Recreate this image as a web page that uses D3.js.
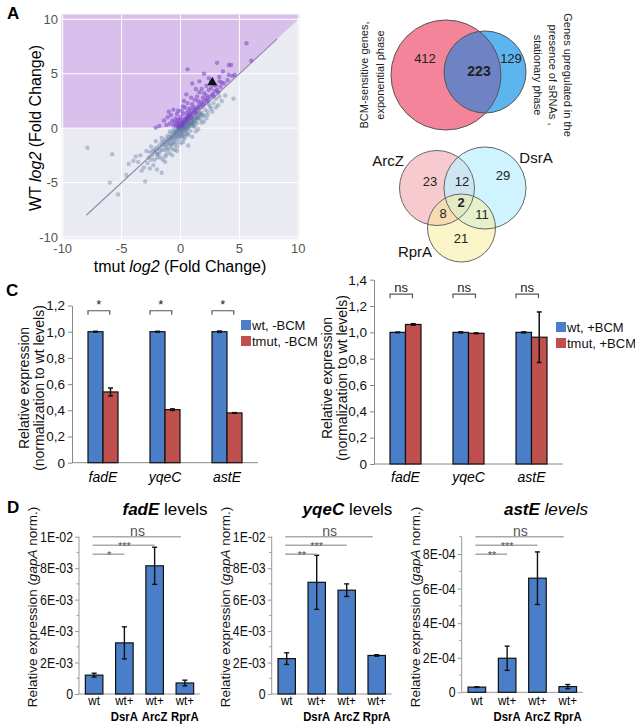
<!DOCTYPE html>
<html><head><meta charset="utf-8">
<script src="https://cdn.jsdelivr.net/npm/d3@7"></script>
<style>body{margin:0;background:#fff} svg{display:block;font-family:"Liberation Sans",Arial,Helvetica,sans-serif}</style>
</head><body><svg id="c" width="635" height="727"></svg>
<script>
// ---------------- DATA ----------------
const scatterTicks = [-10, -5, 0, 5, 10];
const scatterGray = [[-7.9,-1.8],[-5.8,-2.4],[-6.0,-5.0],[-5.3,-6.1],[-4.4,-3.3],[-4.0,-3.0],[-3.6,-3.1],[-3.0,-4.9],[-3.4,-2.5],[-2.7,-2.7],[-2.9,-2.1],[-2.5,-1.7],[-2.3,-3.4],[-2.0,-3.8],[-1.6,-4.1],[-2.4,-2.5],[-2.2,-2.9],[-2.1,-2.2],[-1.9,-2.4],[-1.8,-1.6],[-1.7,-2.7],[-1.6,-1.3],[-1.5,-2.9],[-1.4,-2.0],[-1.3,-3.1],[-1.3,-1.6],[-1.2,-2.4],[-1.1,-1.3],[-1.0,-1.9],[-0.9,-2.3],[-0.9,-1.1],[-0.8,-1.5],[-0.7,-0.9],[-0.7,-1.9],[-0.6,-1.2],[-0.5,-0.6],[-0.5,-1.5],[-0.4,-0.9],[-0.3,-0.4],[-0.3,-1.3],[-0.2,-0.7],[-0.1,-0.2],[-0.1,-1.0],[0.0,-0.4],[0.1,-0.1],[0.1,-0.8],[0.2,-0.3],[0.3,0.0],[0.3,-0.6],[0.4,0.2],[0.5,0.0],[0.5,-0.4],[0.6,0.3],[0.7,0.1],[0.7,0.5],[0.8,0.3],[0.9,0.6],[1.0,0.4],[1.0,0.8],[1.1,0.6],[1.2,0.9],[1.3,0.7],[1.4,1.1],[1.5,0.9],[1.6,1.3],[1.8,1.4],[1.9,1.1],[2.1,1.7],[2.3,1.5],[2.5,2.0],[2.8,2.3],[3.2,2.1],[3.5,2.5],[4.5,2.7],[1.5,-0.1],[1.8,0.5],[2.2,0.9],[0.65,-1.6],[1.0,-0.8],[1.3,-0.3],[2.0,1.2],[2.7,1.5],[0.2,-1.3],[-0.3,-2.1],[-0.8,-0.5],[-1.6,-0.9],[-2.1,-1.2],[-0.5,-0.3],[-0.4,-0.5],[-0.2,-0.1],[0.0,-0.1],[0.15,0.05],[0.25,0.1],[0.35,0.25],[0.45,0.3],[-0.6,-0.7],[-0.75,-0.8],[-0.95,-0.8],[-1.05,-1.1],[-1.25,-1.0],[-1.35,-1.4],[-1.55,-1.6],[-1.85,-1.9],[-2.05,-1.8],[-2.35,-2.1],[0.55,0.15],[0.65,0.45],[0.75,0.35],[0.85,0.65],[0.95,0.45],[1.05,0.85],[1.25,1.05],[1.45,0.95],[1.65,1.35],[0.3,-0.25],[-0.15,-0.55],[0.05,-0.35],[-0.45,-1.0],[-0.65,-1.35],[-0.85,-1.6],[-1.15,-2.0],[0.15,-0.65],[0.4,-0.8],[-1.95,-2.7],[-2.6,-2.2],[-0.5,-2.0],[0.55,-0.55],[1.1,0.2],[1.4,0.45],[0.85,-0.25],[2.4,2.2],[3.0,2.7],[0.9,0.85],[0.6,0.55],[0.2,0.15],[-0.25,-0.3],
  [-0.35,-0.15],[-0.55,-0.45],[-0.15,0.0],[0.05,0.05],[0.25,-0.05],[0.4,0.05],[0.6,0.1],[0.8,0.45],[1.0,0.55],[1.2,0.65],[1.35,0.9],[1.55,1.1],[1.75,1.2],[-0.8,-1.0],[-1.0,-1.4],[-1.2,-1.7],[-1.4,-1.2],[-1.6,-2.0],[-1.75,-2.2],[-2.0,-2.4],[-2.2,-2.0],[-2.5,-2.9],[-2.8,-3.2],[-3.1,-3.6],[-1.1,-0.7],[-0.9,-0.3],[-0.6,-0.15],[-1.3,-2.6],[-0.7,-2.5],[-0.3,-1.7],[0.0,-1.4],[0.3,-1.0],[0.7,-0.6],[1.2,0.1],[1.7,0.8],[2.0,0.6],[2.3,1.2],[2.6,1.8],[3.0,1.9],[3.3,2.9],[3.8,3.0],[-3.8,-2.6],[-4.6,-4.3],[-3.3,-3.9],[-2.6,-3.7],[0.45,-0.2],[0.1,-0.5],[-0.05,-0.75],[-0.35,-0.75],[0.6,-0.1],[0.9,0.2],[1.15,0.4]];
const scatterPurple = [[0.0,0.3],[0.1,0.5],[0.2,0.4],[0.3,0.7],[-0.1,0.2],[-0.2,0.1],[-0.3,0.4],[-0.4,0.2],[-0.5,0.6],[-0.6,0.3],[0.4,0.9],[0.5,0.8],[0.6,1.1],[0.7,1.0],[0.8,1.3],[0.9,1.2],[1.0,1.5],[1.1,1.4],[1.2,1.7],[1.3,1.6],[1.4,1.9],[1.5,1.8],[1.6,2.2],[1.7,2.0],[1.8,2.4],[2.0,2.3],[2.1,2.6],[2.3,2.7],[2.5,2.9],[2.7,3.1],[2.9,3.4],[3.1,3.5],[3.4,3.8],[3.7,4.1],[4.0,4.4],[4.4,4.8],[0.0,1.0],[0.2,1.3],[-0.1,0.8],[0.1,1.6],[0.4,1.9],[0.6,2.3],[0.5,1.4],[0.8,1.8],[1.0,2.2],[1.2,2.6],[1.4,2.9],[1.6,3.3],[1.8,3.6],[2.0,3.2],[2.2,3.9],[2.4,3.5],[2.6,3.7],[2.8,4.0],[3.0,3.9],[3.3,4.3],[3.5,4.2],[2.4,4.6],[2.0,5.0],[3.3,4.7],[4.1,4.9],[4.6,4.9],[3.1,6.0],[4.1,5.8],[4.3,5.8],[0.6,5.4],[5.6,7.8],[6.0,6.2],[0.5,3.1],[-1.0,1.5],[-1.1,1.0],[-1.4,0.7],[-1.8,0.2],[-2.1,0.05],[-0.8,1.2],[-0.6,1.7],[-0.3,1.3],[0.3,2.5],[0.9,2.8],[1.3,3.6],[2.6,4.3],[3.6,5.2],[1.0,4.1],[1.6,4.3],[0.2,2.0],[-0.2,1.6],[0.7,1.6],[1.1,1.9],[1.5,2.5],[1.9,2.8],[2.2,3.0],[0.1,0.7],[-0.4,0.9],[-0.7,0.7],[-0.9,0.4],[-1.2,0.3],[0.3,0.5],[0.6,0.8],[0.9,1.0],[1.3,1.4],[0.05,0.15],[0.15,0.3],[0.25,0.55],[0.45,0.6],[0.55,0.95],[0.75,1.2],[-0.15,0.45],[-0.25,0.65],[1.9,2.1],[2.3,2.5],[2.8,3.0],[3.2,3.3]];
const scatterMarker = [2.7, 4.2];
const diagonalEnds = [-8, 8.2];

const vennTopCounts = [412, 223, 129];
const vennTopLeftLabel = ["BCM-sensitive genes,", "exponential phase"];
const vennTopRightLabel = ["Genes upregulated in the", "presence of sRNAs ,", "stationary phase"];
const vennSets = ["ArcZ", "DsrA", "RprA"];
const vennCounts = [23, 12, 29, 8, 2, 11, 21]; // ArcZ, ArcZ&DsrA, DsrA, ArcZ&RprA, all, DsrA&RprA, RprA

const cGenes = ["fadE", "yqeC", "astE"];
const cLeftWt = [1.0, 1.0, 1.0];
const cLeftWtErr = [0.003, 0.003, 0.005];
const cLeftTmut = [0.54, 0.405, 0.38];
const cLeftTmutErr = [0.03, 0.006, 0.002];
const cLeftSig = ["*", "*", "*"];
const cLeftLegend = ["wt, -BCM", "tmut, -BCM"];
const cLeftTicks = [0, 0.2, 0.4, 0.6, 0.8, 1.0, 1.2];

const cRightWt = [1.0, 1.0, 1.0];
const cRightWtErr = [0.002, 0.004, 0.004];
const cRightTmut = [1.06, 0.993, 0.963];
const cRightTmutErr = [0.006, 0.003, 0.192];
const cRightSig = ["ns", "ns", "ns"];
const cRightLegend = ["wt, +BCM", "tmut, +BCM"];
const cRightTicks = [0, 0.2, 0.4, 0.6, 0.8, 1.0, 1.2, 1.4];

const dConditions = [["wt", ""], ["wt+", "DsrA"], ["wt+", "ArcZ"], ["wt+", "RprA"]];
const dFadE = [1.2e-3, 3.25e-3, 8.15e-3, 0.7e-3];
const dFadEErr = [0.12e-3, 1.02e-3, 1.18e-3, 0.18e-3];
const dFadESig = ["*", "***", "ns"];
const dYqeC = [2.25e-3, 7.1e-3, 6.6e-3, 2.45e-3];
const dYqeCErr = [0.37e-3, 1.72e-3, 0.4e-3, 0.05e-3];
const dYqeCSig = ["**", "***", "ns"];
const dAstE = [3.0e-5, 1.97e-4, 6.6e-4, 3.3e-5];
const dAstEErr = [0.2e-5, 0.7e-4, 1.52e-4, 1.2e-5];
const dAstESig = ["**", "***", "ns"];
const dTicks3 = [0, 2e-3, 4e-3, 6e-3, 8e-3, 1e-2];
const dTickLabels3 = ["0", "2E-03", "4E-03", "6E-03", "8E-03", "1E-02"];
const dTicks4 = [0, 2e-4, 4e-4, 6e-4, 8e-4];
const dTickLabels4 = ["0", "2E-04", "4E-04", "6E-04", "8E-04"];

// ---------------- DRAW ----------------
const svg = d3.select("#c");
const BLUE = "#4A7EC9", RED = "#C0504D";
function narrow(sel, f) {
  sel.each(function () {
    const L = this.getComputedTextLength();
    if (L > 0) { this.setAttribute("textLength", (L * f).toFixed(2)); this.setAttribute("lengthAdjust", "spacingAndGlyphs"); }
  });
}

// panel letters
[["A", 7, 19], ["C", 6, 296], ["D", 7, 513]].forEach(([t, x, y]) =>
  svg.append("text").attr("x", x).attr("y", y).attr("font-size", 17).attr("font-weight", "bold").text(t));

// ---- Panel A scatter ----
(function () {
  const sx = d3.scaleLinear().domain([-10, 10]).range([62.7, 298.3]);
  const sy = d3.scaleLinear().domain([-10, 10]).range([237, 19.3]);
  const xLim = [-10.1, 10.1], yLim = [-10.2, 10.45];
  const g = svg.append("g");
  g.append("rect").attr("x", sx(xLim[0])).attr("y", sy(yLim[1]))
    .attr("width", sx(xLim[1]) - sx(xLim[0])).attr("height", sy(yLim[0]) - sy(yLim[1]))
    .attr("fill", "#EAEAF2");
  const poly = [[xLim[0], 0], [0, 0], [xLim[1], xLim[1]], [xLim[1], yLim[1]], [xLim[0], yLim[1]]];
  g.append("polygon").attr("points", poly.map(p => sx(p[0]) + "," + sy(p[1])).join(" ")).attr("fill", "#D9C0EC");
  scatterTicks.forEach(t => {
    g.append("line").attr("x1", sx(t)).attr("x2", sx(t)).attr("y1", sy(yLim[0])).attr("y2", sy(yLim[1]))
      .attr("stroke", "#fff").attr("stroke-width", 1);
    g.append("line").attr("y1", sy(t)).attr("y2", sy(t)).attr("x1", sx(xLim[0])).attr("x2", sx(xLim[1]))
      .attr("stroke", "#fff").attr("stroke-width", 1);
  });
  g.append("line").attr("x1", sx(diagonalEnds[0])).attr("y1", sy(diagonalEnds[0]))
    .attr("x2", sx(diagonalEnds[1])).attr("y2", sy(diagonalEnds[1]))
    .attr("stroke", "#8C8CA8").attr("stroke-width", 1.1);
  g.selectAll("circle.gp").data(scatterGray).join("circle").attr("class", "gp")
    .attr("cx", d => sx(d[0])).attr("cy", d => sy(d[1])).attr("r", 2.2)
    .attr("fill", "#5F7AA0").attr("fill-opacity", 0.4);
  g.selectAll("circle.pp").data(scatterPurple).join("circle").attr("class", "pp")
    .attr("cx", d => sx(d[0])).attr("cy", d => sy(d[1])).attr("r", 2.2)
    .attr("fill", "#7444C4").attr("fill-opacity", 0.55);
  g.append("path").attr("d", d3.symbol(d3.symbolTriangle, 42)())
    .attr("transform", `translate(${sx(scatterMarker[0])},${sy(scatterMarker[1])})`).attr("fill", "#111");
  scatterTicks.forEach(t => {
    g.append("text").attr("x", sx(t)).attr("y", 253).attr("text-anchor", "middle")
      .attr("font-size", 13).attr("fill", "#555").text(t);
    g.append("text").attr("x", 58).attr("y", sy(t)).attr("dy", "0.35em").attr("text-anchor", "end")
      .attr("font-size", 13).attr("fill", "#555").text(t);
  });
  const xl = g.append("text").attr("x", 180).attr("y", 272).attr("text-anchor", "middle").attr("font-size", 16);
  xl.append("tspan").text("tmut ");
  xl.append("tspan").attr("font-style", "italic").text("log2");
  xl.append("tspan").text(" (Fold Change)");
  const yl = g.append("text").attr("transform", "translate(41,128) rotate(-90)").attr("text-anchor", "middle").attr("font-size", 16);
  yl.append("tspan").text("WT ");
  yl.append("tspan").attr("font-style", "italic").text("log2");
  yl.append("tspan").text(" (Fold Change)");
})();

// ---- Venn diagrams ----
(function () {
  const g = svg.append("g");
  const defs = svg.append("defs");
  const pink = { cx: 446, cy: 75, r: 55 }, blue = { cx: 485, cy: 72, r: 41 };
  defs.append("clipPath").attr("id", "clipPink").append("circle").attr("cx", pink.cx).attr("cy", pink.cy).attr("r", pink.r);
  g.append("circle").attr("cx", pink.cx).attr("cy", pink.cy).attr("r", pink.r).attr("fill", "#F4849A");
  g.append("circle").attr("cx", blue.cx).attr("cy", blue.cy).attr("r", blue.r).attr("fill", "#5DB5F0");
  g.append("circle").attr("cx", blue.cx).attr("cy", blue.cy).attr("r", blue.r).attr("fill", "#6F82C4").attr("clip-path", "url(#clipPink)");
  [pink, blue].forEach(c => g.append("circle").attr("cx", c.cx).attr("cy", c.cy).attr("r", c.r)
    .attr("fill", "none").attr("stroke", "#555").attr("stroke-width", 1));
  const tp = [[425, 63, false], [479, 76, true], [511, 63, false]];
  vennTopCounts.forEach((v, i) => g.append("text").attr("x", tp[i][0]).attr("y", tp[i][1]).attr("text-anchor", "middle")
    .attr("font-size", tp[i][2] ? 14 : 13).attr("font-weight", tp[i][2] ? "bold" : "normal").attr("fill", "#222").text(v));
  vennTopLeftLabel.forEach((t, i) => g.append("text").attr("transform", `translate(${368 + i * 16},75) rotate(-90)`)
    .attr("text-anchor", "middle").attr("font-size", 11).attr("fill", "#222").text(t));
  vennTopRightLabel.forEach((t, i) => g.append("text").attr("transform", `translate(${564 - i * 15},75) rotate(90)`)
    .attr("text-anchor", "middle").attr("font-size", 11).attr("fill", "#222").text(t));

  const circ = [
    { cx: 437, cy: 188, r: 37.5, fill: "#F7CAD0", op: 1 },
    { cx: 485, cy: 188, r: 41, fill: "#BEF0FF", op: 0.72 },
    { cx: 461.5, cy: 228, r: 34, fill: "#F8EE96", op: 0.5 }
  ];
  circ.forEach(c => g.append("circle").attr("cx", c.cx).attr("cy", c.cy).attr("r", c.r)
    .attr("fill", c.fill).attr("fill-opacity", c.op));
  circ.forEach(c => g.append("circle").attr("cx", c.cx).attr("cy", c.cy).attr("r", c.r)
    .attr("fill", "none").attr("stroke", "#666").attr("stroke-width", 1));
  const sp = [[388, 166], [536, 163], [415, 257]];
  vennSets.forEach((s, i) => g.append("text").attr("x", sp[i][0]).attr("y", sp[i][1]).attr("text-anchor", "middle")
    .attr("font-size", 15).attr("fill", "#111").text(s));
  const np = [[430, 186], [462, 186], [503, 180], [443, 218], [461, 207], [482, 219], [461, 243]];
  vennCounts.forEach((v, i) => g.append("text").attr("x", np[i][0]).attr("y", np[i][1]).attr("text-anchor", "middle")
    .attr("font-size", 13).attr("font-weight", i === 4 ? "bold" : "normal").attr("fill", "#222").text(v));
})();

// ---- Panel C grouped bar charts ----
function cChart(o) {
  const g = svg.append("g");
  const y = d3.scaleLinear().domain(o.yDomain).range(o.yRange);
  const x = d3.scaleBand().domain(cGenes).range([o.axisX, o.axisX + 3 * o.step]).paddingInner(o.pad).paddingOuter(o.pad / 2);
  const bw = x.bandwidth() / 2;
  const fmt = v => v === 0 ? "0" : v.toFixed(1).replace(".", ",");
  const ax = g.append("g").attr("transform", `translate(${o.axisX},0)`)
    .call(d3.axisLeft(y).tickValues(o.ticks).tickFormat(fmt).tickSize(4).tickPadding(3).tickSizeOuter(0));
  ax.selectAll("text").attr("font-size", 13.5).attr("font-family", null).attr("fill", "#111");
  ax.selectAll("line,path").attr("stroke", "#888");
  g.append("line").attr("x1", o.axisX).attr("x2", o.axisX + 3 * o.step).attr("y1", y(0)).attr("y2", y(0)).attr("stroke", "#888");
  const series = [[o.wt, o.wtErr, BLUE, 0], [o.tm, o.tmErr, RED, 1]];
  series.forEach(([vals, errs, col, k]) => {
    g.selectAll(null).data(cGenes).join("rect")
      .attr("x", d => x(d) + k * bw).attr("width", bw)
      .attr("y", (d, i) => y(vals[i])).attr("height", (d, i) => y(0) - y(vals[i]))
      .attr("fill", col).attr("stroke", "#111").attr("stroke-width", 1.2);
    cGenes.forEach((d, i) => {
      const cx = x(d) + k * bw + bw / 2;
      if (errs[i] > 0.004) {
        g.append("line").attr("x1", cx).attr("x2", cx).attr("y1", y(vals[i] - errs[i])).attr("y2", y(vals[i] + errs[i])).attr("stroke", "#111").attr("stroke-width", 1.5);
      }
      [vals[i] - errs[i], vals[i] + errs[i]].forEach(v => g.append("line").attr("x1", cx - 2.5).attr("x2", cx + 2.5)
        .attr("y1", y(v)).attr("y2", y(v)).attr("stroke", "#111").attr("stroke-width", 1.5));
    });
  });
  cGenes.forEach((d, i) => {
    const x0 = x(d), x1 = x(d) + bw * 1.45, by = y(o.bracketVal);
    g.append("path").attr("d", `M${x0},${by + 4}V${by}H${x1}V${by + 4}`).attr("fill", "none").attr("stroke", "#555").attr("stroke-width", 1.2);
    g.append("text").attr("x", (x0 + x1) / 2).attr("y", by - 2).attr("text-anchor", "middle")
      .attr("font-size", 13).attr("fill", "#222").text(o.sig[i]);
    g.append("text").attr("x", x(d) + x.bandwidth() / 2).attr("y", 482).attr("text-anchor", "middle")
      .attr("font-size", 14).attr("font-style", "italic").text(d);
  });
  o.legend.forEach((t, i) => {
    g.append("rect").attr("x", o.legX).attr("y", o.legY + i * 16).attr("width", 10).attr("height", 10).attr("fill", i ? RED : BLUE);
    g.append("text").attr("x", o.legX + 11).attr("y", o.legY + 9.5 + i * 16).attr("font-size", 13).attr("fill", "#111").text(t);
  });
  ["Relative expression", "(normalization to wt levels)"].forEach((t, i) =>
    g.append("text").attr("transform", `translate(${o.labX + i * 15},${o.labY}) rotate(-90)`)
      .attr("text-anchor", "middle").attr("font-size", 14).attr("fill", "#111").text(t));
}
cChart({ wt: cLeftWt, wtErr: cLeftWtErr, tm: cLeftTmut, tmErr: cLeftTmutErr, sig: cLeftSig, legend: cLeftLegend,
  ticks: cLeftTicks, yDomain: [0, 1.2], yRange: [462.7, 305.5], axisX: 72, step: 62, pad: 0.516, bracketVal: 1.16,
  legX: 241, legY: 320, labX: 29, labY: 388 });
cChart({ wt: cRightWt, wtErr: cRightWtErr, tm: cRightTmut, tmErr: cRightTmutErr, sig: cRightSig, legend: cRightLegend,
  ticks: cRightTicks, yDomain: [0, 1.4], yRange: [464, 279.7], axisX: 374, step: 63, pad: 0.508, bracketVal: 1.29,
  legX: 556, legY: 322, labX: 332, labY: 378 });

// ---- Panel D bar charts ----
function dChart(o) {
  const g = svg.append("g");
  const y = d3.scaleLinear().domain(o.yDomain).range(o.yRange);
  const x = d3.scaleBand().domain(d3.range(4)).range([o.axisX, o.axisX + 4 * o.step]).paddingInner(0.42).paddingOuter(0.21);
  const yTop = o.yRange[1];
  const ax = g.append("g").attr("transform", `translate(${o.axisX},0)`)
    .call(d3.axisLeft(y).tickValues(o.ticks).tickFormat((d, i) => o.tickLabels[i]).tickSize(4).tickPadding(2).tickSizeOuter(0));
  ax.selectAll("text").attr("font-size", 14).attr("font-family", null).attr("fill", "#111");
  narrow(ax.selectAll("text"), 0.88);
  ax.selectAll("line,path").attr("stroke", "#999");
  ax.select("path").attr("d", `M0,${y(0)}V${yTop}`);
  o.minor.forEach(v => g.append("line").attr("x1", o.axisX - 2.5).attr("x2", o.axisX).attr("y1", y(v)).attr("y2", y(v)).attr("stroke", "#999"));
  g.append("line").attr("x1", o.axisX).attr("x2", o.axisX + 4 * o.step).attr("y1", y(0)).attr("y2", y(0)).attr("stroke", "#999");
  g.selectAll(null).data(o.vals).join("rect")
    .attr("x", (d, i) => x(i)).attr("width", x.bandwidth())
    .attr("y", d => y(d)).attr("height", d => y(0) - y(d))
    .attr("fill", BLUE).attr("stroke", "#111").attr("stroke-width", 1.2);
  o.vals.forEach((v, i) => {
    const cx = x(i) + x.bandwidth() / 2;
    g.append("line").attr("x1", cx).attr("x2", cx).attr("y1", y(v - o.errs[i])).attr("y2", y(v + o.errs[i])).attr("stroke", "#111").attr("stroke-width", 1.4);
    [v - o.errs[i], v + o.errs[i]].forEach(e => g.append("line").attr("x1", cx - 2.5).attr("x2", cx + 2.5).attr("y1", y(e)).attr("y2", y(e)).attr("stroke", "#111").attr("stroke-width", 1.4));
  });
  dConditions.forEach((c, i) => {
    const cx = x(i) + x.bandwidth() / 2;
    const t1 = g.append("text").attr("x", cx).attr("y", 705).attr("text-anchor", "middle").attr("font-size", 13.5).text(c[0]);
    narrow(t1, 0.86);
    if (c[1]) {
      const t2 = g.append("text").attr("x", cx).attr("y", 721).attr("text-anchor", "middle").attr("font-size", 13.5).attr("font-weight", "bold").text(c[1]);
      narrow(t2, 0.84);
    }
  });
  const c0 = x(0) + x.bandwidth() / 2;
  o.sig.forEach((s, k) => {
    const target = k + 1;
    const cx = x(target) + x.bandwidth() / 2 - (target === 3 ? 4 : 0);
    const ly = yTop + [17.5, 8.5, 0][k];
    g.append("line").attr("x1", c0 - 1.5).attr("x2", cx).attr("y1", ly).attr("y2", ly).attr("stroke", "#AAA").attr("stroke-width", 1.6);
    g.append("text").attr("x", (c0 + cx) / 2).attr("y", s === "ns" ? ly - 0.5 : ly + 4.5).attr("text-anchor", "middle")
      .attr("font-size", s === "ns" ? 14 : 11).attr("fill", "#555").text(s);
  });
  const t = g.append("text").attr("x", o.titleX).attr("y", 515).attr("text-anchor", "middle").attr("font-size", 17);
  t.append("tspan").attr("font-weight", "bold").attr("font-style", "italic").text(o.gene);
  t.append("tspan").attr("font-style", o.italicTitle ? "italic" : "normal").text(" levels");
  const yl = g.append("text").attr("transform", `translate(${o.axisX - 42},607) rotate(-90)`).attr("text-anchor", "middle").attr("font-size", 13.5).attr("fill", "#111");
  yl.append("tspan").text("Relative expression  (");
  yl.append("tspan").attr("font-style", "italic").text("gapA");
  yl.append("tspan").text(" norm.)");
}
const minor3 = [1e-3, 3e-3, 5e-3, 7e-3, 9e-3];
const minor4 = [1e-4, 3e-4, 5e-4, 7e-4, 9e-4];
dChart({ gene: "fadE", vals: dFadE, errs: dFadEErr, sig: dFadESig, ticks: dTicks3, tickLabels: dTickLabels3, minor: minor3,
  yDomain: [0, 0.01], yRange: [694, 536.7], axisX: 79, step: 30.25, titleX: 165 });
dChart({ gene: "yqeC", vals: dYqeC, errs: dYqeCErr, sig: dYqeCSig, ticks: dTicks3, tickLabels: dTickLabels3, minor: minor3,
  yDomain: [0, 0.01], yRange: [694, 536.7], axisX: 271.7, step: 30, titleX: 347.5 });
dChart({ gene: "astE", vals: dAstE, errs: dAstEErr, sig: dAstESig, ticks: dTicks4, tickLabels: dTickLabels4, minor: minor4,
  yDomain: [0, 9e-4], yRange: [692.3, 536.7], axisX: 461.7, step: 30.3, titleX: 546, italicTitle: true });
</script></body></html>
